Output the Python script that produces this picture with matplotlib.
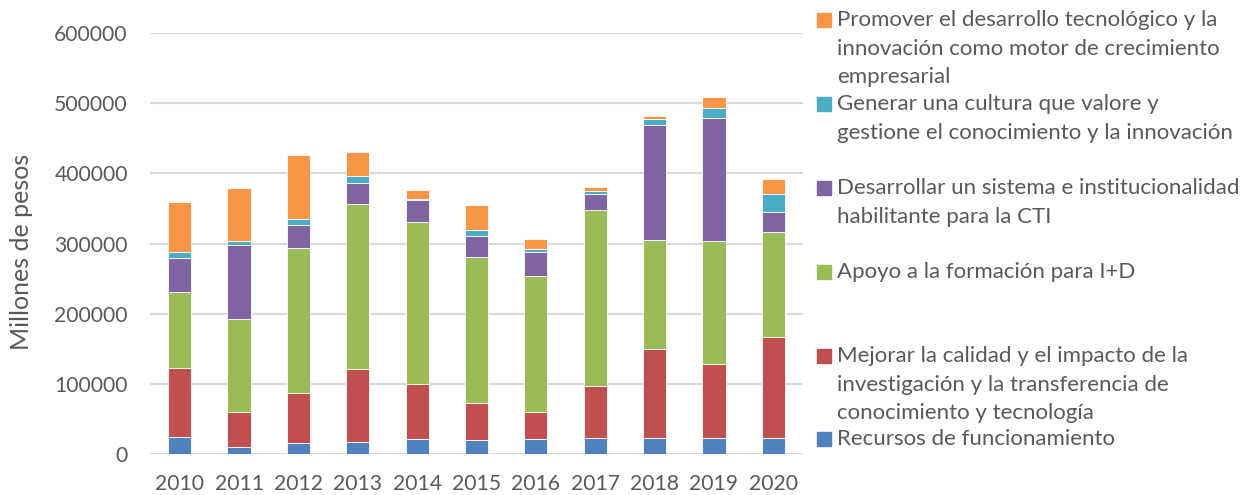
import numpy as np
import matplotlib.pyplot as plt
from matplotlib.patches import Rectangle

# values (millones de pesos)
years = ["2010", "2011", "2012", "2013", "2014", "2015", "2016", "2017", "2018", "2019", "2020"]
recursos = [25200, 10000, 15700, 17100, 21400, 20400, 21800, 22700, 22700, 22700, 23700]
mejorar = [98300, 50800, 72200, 104000, 78800, 53200, 38900, 74500, 127100, 105700, 143100]
apoyo = [107400, 131600, 206200, 235700, 230900, 207600, 193300, 250700, 155400, 175400, 149800]
desarrollar = [48400, 105000, 31800, 29400, 30400, 29000, 33700, 23200, 163000, 175300, 27900]
generar = [8100, 5700, 8500, 10000, 2400, 8600, 4700, 4300, 9500, 13800, 25600]
promover = [71300, 76500, 91300, 34200, 12800, 35600, 13800, 4700, 3800, 15600, 21800]

labels = [
    "Recursos de funcionamiento",
    "Mejorar la calidad y el impacto de la\ninvestigación y la transferencia de\nconocimiento y tecnología",
    "Apoyo a la formación para I+D",
    "Desarrollar un sistema e institucionalidad\nhabilitante para la CTI",
    "Generar una cultura que valore y\ngestione el conocimiento y la innovación",
    "Promover el desarrollo tecnológico y la\ninnovación como motor de crecimiento\nempresarial",
]
series = [recursos, mejorar, apoyo, desarrollar, generar, promover]
colors = ["#4F81BD", "#C0504D", "#9BBB59", "#8064A2", "#4BACC6", "#F79646"]

txt = "#595959"
fs = 15.2
plt.rcParams['font.family'] = ['Lato', 'DejaVu Sans']

W, H = 1257, 495
fig = plt.figure(figsize=(W / 100, H / 100), dpi=100)
ax = fig.add_axes([150 / W, 1 - 454.3 / H, 653 / W, (454.3 - 32.7) / H])

x = np.arange(len(years))
bottom = np.zeros(len(years))
for vals, c in zip(series, colors):
    ax.bar(x, vals, 0.39, bottom=bottom, color=c, edgecolor="white", linewidth=0.6, zorder=3)
    bottom += np.array(vals)

ax.set_xlim(-0.5, len(years) - 0.5)
ax.set_ylim(0, 600000)
ax.set_yticks(np.arange(0, 600001, 100000))
ax.set_xticks(x)
ax.set_xticklabels(years)
ax.grid(axis="y", color="#D9D9D9", linewidth=1.5, zorder=0)
for s in ax.spines.values():
    s.set_visible(False)
ax.tick_params(axis="both", length=0, labelsize=fs, colors=txt)
ax.tick_params(axis="y", pad=16)
ax.tick_params(axis="x", pad=14)

fig.text(22 / W, 1 - 252 / H, "Millones de pesos", rotation=90, ha="center", va="center",
         fontsize=18, color=txt)

# legend, drawn by hand to follow the original layout (top entry = last series)
slot_y = [20, 104, 188, 272, 356, 439]
line_h = 28.7
for i, (lab, c) in enumerate(zip(labels[::-1], colors[::-1])):
    y0 = slot_y[i]
    fig.patches.append(Rectangle((817 / W, 1 - (y0 + 7) / H), 14 / W, 14 / H,
                                 transform=fig.transFigure, color=c))
    for j, line in enumerate(lab.split("\n")):
        fig.text(837 / W, 1 - (y0 + j * line_h) / H, line, ha="left", va="center",
                 fontsize=16, color=txt)

fig.savefig("out.png", dpi=100)
